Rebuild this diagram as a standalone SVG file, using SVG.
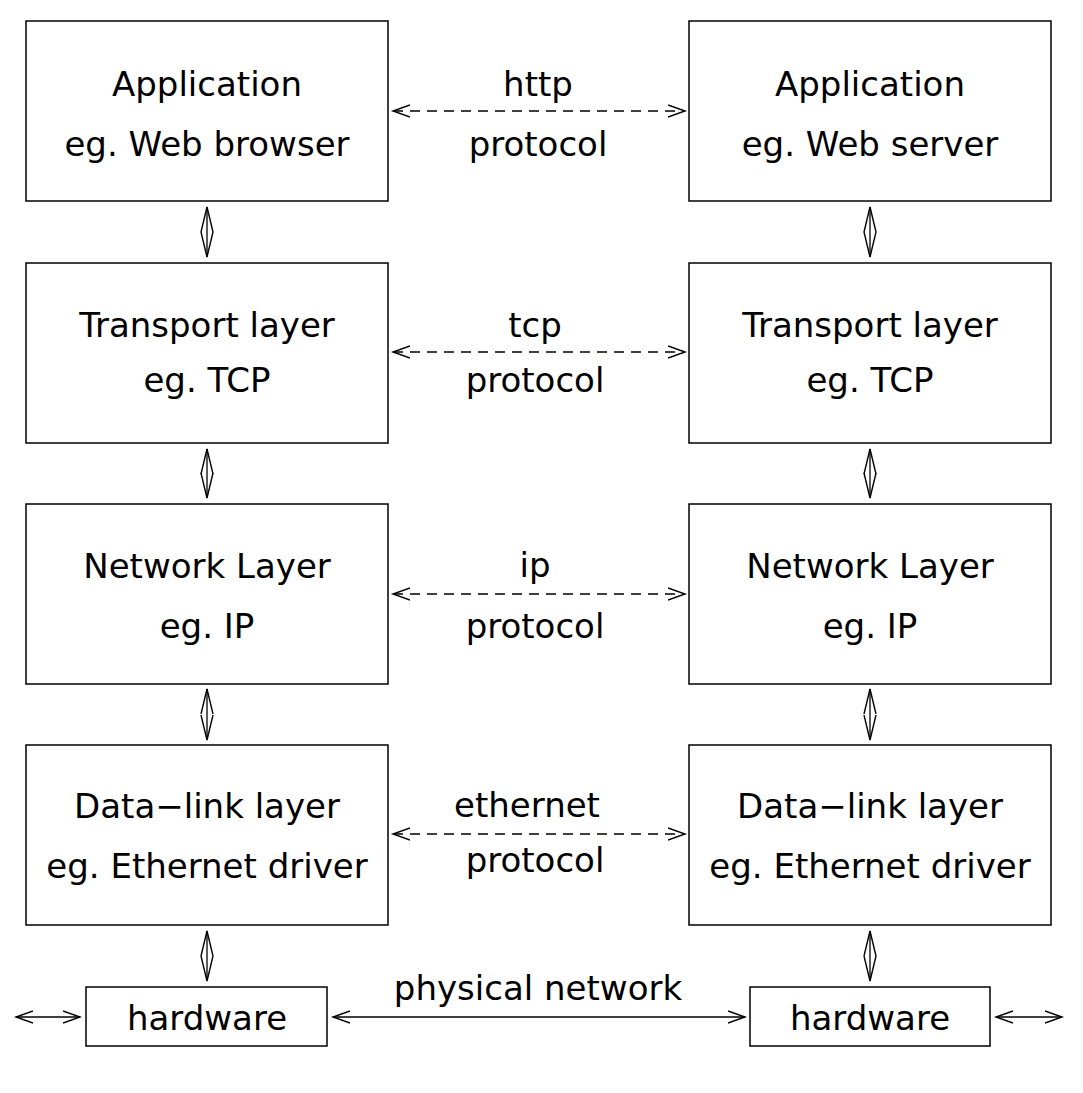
<svg xmlns="http://www.w3.org/2000/svg" width="1083" height="1093" viewBox="0 0 1083 1093">
<style>
.box{fill:#fff;stroke:#000;stroke-width:1.5}
.t{font-family:"DejaVu Sans",sans-serif;font-size:34px;text-anchor:middle;fill:#000}
.c{fill:none;stroke:#000;stroke-width:1.3}
.d{stroke-dasharray:10 7}
</style>
<defs>
<marker id="ah" markerUnits="userSpaceOnUse" markerWidth="22" markerHeight="16" refX="17" refY="7" orient="auto-start-reverse" viewBox="0 0 22 14">
<path d="M0,1 L17,7 L0,13" fill="none" stroke="#000" stroke-width="1.4"/>
</marker>
<marker id="av" markerUnits="userSpaceOnUse" markerWidth="30" markerHeight="16" refX="25" refY="7" orient="auto-start-reverse" viewBox="0 0 30 14">
<path d="M0,1 L25,7 L0,13" fill="none" stroke="#000" stroke-width="1.4"/>
</marker>
</defs>
<rect width="1083" height="1093" fill="#fff"/>
<g id="app-l"><rect class="box" x="26" y="21" width="362" height="180"/><text class="t" x="207" y="96">Application</text><text class="t" x="207" y="156">eg. Web browser</text></g>
<g id="app-r"><rect class="box" x="689" y="21" width="362" height="180"/><text class="t" x="870" y="96">Application</text><text class="t" x="870" y="156">eg. Web server</text></g>
<g id="tr-l"><rect class="box" x="26" y="263" width="362" height="180"/><text class="t" x="207" y="337">Transport layer</text><text class="t" x="207" y="392">eg. TCP</text></g>
<g id="tr-r"><rect class="box" x="689" y="263" width="362" height="180"/><text class="t" x="870" y="337">Transport layer</text><text class="t" x="870" y="392">eg. TCP</text></g>
<g id="net-l"><rect class="box" x="26" y="504" width="362" height="180"/><text class="t" x="207" y="578">Network Layer</text><text class="t" x="207" y="638">eg. IP</text></g>
<g id="net-r"><rect class="box" x="689" y="504" width="362" height="180"/><text class="t" x="870" y="578">Network Layer</text><text class="t" x="870" y="638">eg. IP</text></g>
<g id="dl-l"><rect class="box" x="26" y="745" width="362" height="180"/><text class="t" x="207" y="818">Data−link layer</text><text class="t" x="207" y="878">eg. Ethernet driver</text></g>
<g id="dl-r"><rect class="box" x="689" y="745" width="362" height="180"/><text class="t" x="870" y="818">Data−link layer</text><text class="t" x="870" y="878">eg. Ethernet driver</text></g>
<g id="hw-l"><rect class="box" x="86" y="987" width="241" height="59"/><text class="t" x="207" y="1030">hardware</text></g>
<g id="hw-r"><rect class="box" x="750" y="987" width="240" height="59"/><text class="t" x="870" y="1030">hardware</text></g>
<g id="connectors">
<line class="c d" x1="393" y1="111" x2="685" y2="111" marker-start="url(#ah)" marker-end="url(#ah)"/>
<line class="c d" x1="393" y1="352" x2="685" y2="352" marker-start="url(#ah)" marker-end="url(#ah)"/>
<line class="c d" x1="393" y1="594" x2="685" y2="594" marker-start="url(#ah)" marker-end="url(#ah)"/>
<line class="c d" x1="393" y1="834" x2="685" y2="834" marker-start="url(#ah)" marker-end="url(#ah)"/>
<line class="c" x1="333" y1="1017" x2="745" y2="1017" marker-start="url(#ah)" marker-end="url(#ah)"/>
<line class="c" x1="16" y1="1017" x2="80" y2="1017" marker-start="url(#ah)" marker-end="url(#ah)"/>
<line class="c" x1="996" y1="1017" x2="1062" y2="1017" marker-start="url(#ah)" marker-end="url(#ah)"/>
<line class="c" x1="207" y1="207" x2="207" y2="257" marker-start="url(#av)" marker-end="url(#av)"/>
<line class="c" x1="870" y1="207" x2="870" y2="257" marker-start="url(#av)" marker-end="url(#av)"/>
<line class="c" x1="207" y1="449" x2="207" y2="498" marker-start="url(#av)" marker-end="url(#av)"/>
<line class="c" x1="870" y1="449" x2="870" y2="498" marker-start="url(#av)" marker-end="url(#av)"/>
<line class="c" x1="207" y1="689" x2="207" y2="740" marker-start="url(#av)" marker-end="url(#av)"/>
<line class="c" x1="870" y1="689" x2="870" y2="740" marker-start="url(#av)" marker-end="url(#av)"/>
<line class="c" x1="207" y1="931" x2="207" y2="981" marker-start="url(#av)" marker-end="url(#av)"/>
<line class="c" x1="870" y1="931" x2="870" y2="981" marker-start="url(#av)" marker-end="url(#av)"/>
<text class="t" x="538" y="96">http</text><text class="t" x="538" y="156">protocol</text>
<text class="t" x="535" y="337">tcp</text><text class="t" x="535" y="392">protocol</text>
<text class="t" x="535" y="577">ip</text><text class="t" x="535" y="638">protocol</text>
<text class="t" x="527" y="817">ethernet</text><text class="t" x="535" y="872">protocol</text>
<text class="t" x="538" y="1000">physical network</text>
</g>
</svg>
